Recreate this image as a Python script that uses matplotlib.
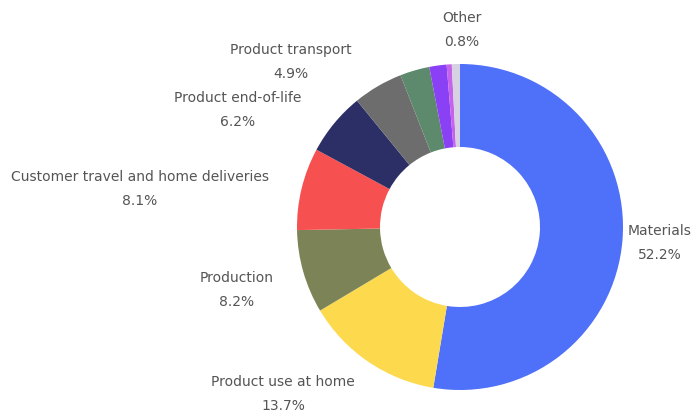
import matplotlib.pyplot as plt

# Emission shares, clockwise from the top
shares = [52.2, 13.7, 8.2, 8.1, 6.2, 4.9, 2.9, 1.7, 0.5, 0.8]
colors = ["#4f70f8", "#fdd94e", "#7c8457", "#f65150", "#2b2f66",
          "#6d6d6d", "#5d8a6c", "#8a40f4", "#c563ea", "#d6d2e2"]

# label text and position (pixel coords, from the top left)
label_names = ["Materials", "Product use at home", "Production",
               "Customer travel and home deliveries", "Product end-of-life",
               "Product transport", "Other"]
label_pcts = ["52.2%", "13.7%", "8.2%", "8.1%", "6.2%", "4.9%", "0.8%"]
label_x = [660, 283, 237, 140, 238, 291, 462]
label_y = [243, 394, 290, 189, 110, 62, 30]

W, H = 696, 414
fig = plt.figure(figsize=(W / 100, H / 100), dpi=100)
ax = fig.add_axes([0, 0, 1, 1])

ax.pie(shares, colors=colors, startangle=90, counterclock=False,
       center=(460, H - 228), radius=163,
       wedgeprops=dict(width=83, linewidth=0))
ax.set_xlim(0, W)
ax.set_ylim(0, H)
ax.set_aspect("equal")
ax.axis("off")

for name, pct, x, y in zip(label_names, label_pcts, label_x, label_y):
    ax.text(x, H - y, name + "\n" + pct, ha="center", va="center",
            fontsize=10, color="#555555", linespacing=1.85)

fig.savefig("out.png", dpi=100)
